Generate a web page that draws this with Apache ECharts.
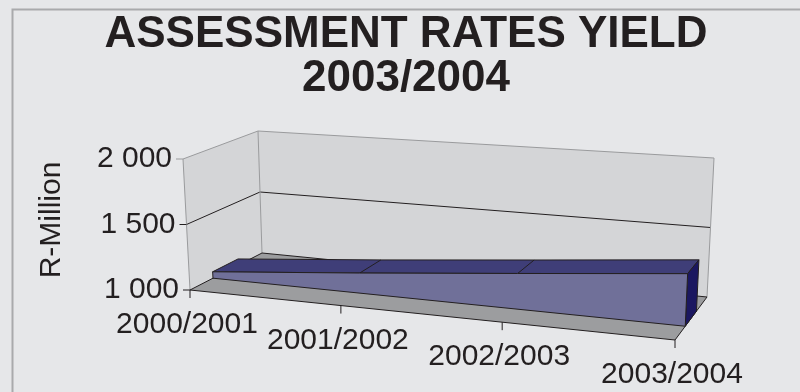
<!DOCTYPE html>
<html>
<head>
<meta charset="utf-8">
<script src="https://cdn.jsdelivr.net/npm/echarts@6/dist/echarts.min.js"></script>
<style>
  html, body { margin: 0; padding: 0; background: #e6e7e9; }
  #chart { width: 800px; height: 392px; }
</style>
</head>
<body>
<div id="chart"></div>
<script>
// ---- data ----
const categories = ['2000/2001', '2001/2002', '2002/2003', '2003/2004'];
const yieldValues = [1050, 1150, 1255, 1360];
const valueTicks = [1000, 1500, 2000];
const axisName = 'R-Million';
const titleText = 'ASSESSMENT RATES YIELD\n2003/2004';

// ---- 3D box layout (screen corners of the plot cube) ----
// corner order (u,d) = (0,0) front-left, (1,0) front-right, (1,1) back-right, (0,1) back-left
const floorCorners = [[190, 290], [675, 340], [707, 297], [262, 253]];
const ceilCorners  = [[183, 159], [681.5, 191], [714, 158], [258, 131]];
const categoryPerspective = 0.945;   // foreshortening along the category direction
const seriesDepth = [0.3, 0.65];     // front / back of the area slab

const FONT = '"Liberation Sans", Arial, sans-serif';
const C = {
  bg: '#e6e7e9', wall: '#d4d5d7', wallEdge: '#9a9b9d', floor: '#9c9d9f',
  dark: '#231f20', front: '#707099', top: '#3f3e78', side: '#1b1760'
};

// projective map of the unit square onto the floor quad
function squareToQuad(q) {
  const [x0, y0] = q[0], [x1, y1] = q[1], [x2, y2] = q[2], [x3, y3] = q[3];
  const dx1 = x1 - x2, dx2 = x3 - x2, dx3 = x0 - x1 + x2 - x3;
  const dy1 = y1 - y2, dy2 = y3 - y2, dy3 = y0 - y1 + y2 - y3;
  const den = dx1 * dy2 - dx2 * dy1;
  const g = (dx3 * dy2 - dx2 * dy3) / den;
  const h = (dx1 * dy3 - dx3 * dy1) / den;
  return { a: x1 - x0 + g * x1, b: x3 - x0 + h * x3, c: x0,
           d: y1 - y0 + g * y1, e: y3 - y0 + h * y3, f: y0, g: g, h: h };
}
const H = squareToQuad(floorCorners);
const vertical = floorCorners.map((p, k) => [ceilCorners[k][0] - p[0], ceilCorners[k][1] - p[1]]);

// (u along categories, t along values, d into depth) -> screen
function project(u, t, d) {
  const r = categoryPerspective;
  const uw = r * u / (1 + (r - 1) * u);
  const w = H.g * uw + H.h * d + 1;
  const fx = (H.a * uw + H.b * d + H.c) / w;
  const fy = (H.d * uw + H.e * d + H.f) / w;
  const k0 = (1 - uw) * (1 - d), k1 = uw * (1 - d), k2 = uw * d, k3 = (1 - uw) * d;
  const vx = vertical[0][0] * k0 + vertical[1][0] * k1 + vertical[2][0] * k2 + vertical[3][0] * k3;
  const vy = vertical[0][1] * k0 + vertical[1][1] * k1 + vertical[2][1] * k2 + vertical[3][1] * k3;
  return [fx + vx * t, fy + vy * t];
}

// normalise a (category index, value) pair through the cartesian scales
function normaliser(api) {
  const n = categories.length;
  const p0 = api.coord([0, valueTicks[0]]);
  const p1 = api.coord([n - 1, valueTicks[valueTicks.length - 1]]);
  return function (i, v) {
    const p = api.coord([i, v]);
    return [(p[0] - p0[0]) / (p1[0] - p0[0]), (p0[1] - p[1]) / (p0[1] - p1[1])];
  };
}

function poly(points, fill, stroke, lw) {
  return { type: 'polygon', shape: { points: points },
           style: { fill: fill, stroke: stroke || null, lineWidth: lw || 1 } };
}
function line(a, b, stroke, lw) {
  return { type: 'line', shape: { x1: a[0], y1: a[1], x2: b[0], y2: b[1] },
           style: { stroke: stroke, lineWidth: lw || 1 } };
}
function fmtTick(v) {
  return String(v).replace(/\B(?=(\d{3})+(?!\d))/g, ' ');
}

// walls, floor and value gridlines
function renderFrame(params, api) {
  const norm = normaliser(api);
  const kids = [];
  kids.push(poly([project(0, 0, 0), project(0, 1, 0), project(0, 1, 1), project(0, 0, 1)], C.wall));
  kids.push(poly([project(0, 0, 1), project(0, 1, 1), project(1, 1, 1), project(1, 0, 1)], C.wall));
  valueTicks.forEach((tv, k) => {
    if (k === 0) return;
    const t = norm(0, tv)[1];
    const col = k === valueTicks.length - 1 ? C.wallEdge : C.dark;
    kids.push(line(project(0, t, 0), project(0, t, 1), col, 1));
    kids.push(line(project(0, t, 1), project(1, t, 1), col, 1));
  });
  kids.push(line(project(0, 0, 0), project(0, 1, 0), C.wallEdge, 1));
  kids.push(line(project(0, 0, 1), project(0, 1, 1), C.wallEdge, 1));
  kids.push(line(project(1, 0, 1), project(1, 1, 1), C.wallEdge, 1));
  kids.push(poly([project(0, 0, 0), project(1, 0, 0), project(1, 0, 1), project(0, 0, 1)],
                 C.floor, C.dark, 1));
  return { type: 'group', children: kids };
}

// the area slab: top face, front face, right end face
function renderArea(params, api) {
  if (params.dataIndex !== 0) return null;
  const norm = normaliser(api);
  const [df, db] = seriesDepth;
  const pts = yieldValues.map((v, i) => norm(i, v));
  const frontTop = pts.map(p => project(p[0], p[1], df));
  const backTop = pts.map(p => project(p[0], p[1], db));
  const last = pts[pts.length - 1];
  const kids = [];
  kids.push(poly(frontTop.concat(backTop.slice().reverse()), C.top, C.dark, 1));
  for (let i = 1; i < pts.length - 1; i++) kids.push(line(frontTop[i], backTop[i], C.dark, 1));
  kids.push(poly([project(last[0], last[1], df), project(last[0], last[1], db),
                  project(last[0], 0, db), project(last[0], 0, df)], C.side, C.dark, 1));
  kids.push(poly(frontTop.concat([project(last[0], 0, df), project(pts[0][0], 0, df)]),
                 C.front, C.dark, 1));
  return { type: 'group', children: kids };
}

// axis ticks, tick labels and axis name
function renderAxes(params, api) {
  const norm = normaliser(api);
  const kids = [];
  valueTicks.forEach((tv, k) => {
    const p = project(0, norm(0, tv)[1], 0);
    const col = k === valueTicks.length - 1 ? C.wallEdge : C.dark;
    kids.push(line(p, [p[0] - 7, p[1]], col, 1));
    kids.push({ type: 'text', style: { text: fmtTick(tv), x: p[0] - 11, y: p[1],
      align: 'right', verticalAlign: 'middle', fill: C.dark, font: '30px ' + FONT } });
  });
  categories.forEach((c, i) => {
    const p = project(norm(i, valueTicks[0])[0], 0, 0);
    kids.push(line(p, [p[0], p[1] + 8], C.dark, 1));
    kids.push({ type: 'text', style: { text: c, x: p[0] - 3, y: p[1] + 35,
      align: 'center', verticalAlign: 'middle', fill: C.dark, font: '30px ' + FONT } });
  });
  kids.push({ type: 'text', x: 52, y: 220, rotation: Math.PI / 2,
    style: { text: axisName, x: 0, y: 0, align: 'center', verticalAlign: 'middle',
             fill: C.dark, font: '30px ' + FONT } });
  return { type: 'group', children: kids };
}

const chart = echarts.init(document.getElementById('chart'), null, { renderer: 'canvas' });
chart.setOption({
  backgroundColor: C.bg,
  animation: false,
  title: {
    text: titleText, left: 406, top: 13, textAlign: 'center', padding: 0,
    textStyle: { fontFamily: FONT, fontWeight: 'bold', fontSize: 44, lineHeight: 44, color: C.dark }
  },
  graphic: [{
    type: 'rect', left: 10, top: 7, silent: true,
    shape: { width: 900, height: 500 },
    style: { fill: null, stroke: '#a9aaac', lineWidth: 2 }
  }],
  grid: { left: 190, right: 125, top: 159, bottom: 102 },
  xAxis: { type: 'category', data: categories, boundaryGap: false, show: false },
  yAxis: { type: 'value', min: valueTicks[0], max: valueTicks[valueTicks.length - 1],
           interval: 500, show: false },
  series: [
    { type: 'custom', name: 'frame', z: 1, clip: false, silent: true,
      data: [[0, valueTicks[0]]], renderItem: renderFrame },
    { type: 'custom', name: 'Assessment rates', z: 2, clip: false, silent: true,
      data: yieldValues.map((v, i) => [i, v]), renderItem: renderArea },
    { type: 'custom', name: 'axes', z: 3, clip: false, silent: true,
      data: [[0, valueTicks[0]]], renderItem: renderAxes }
  ]
});
</script>
</body>
</html>
